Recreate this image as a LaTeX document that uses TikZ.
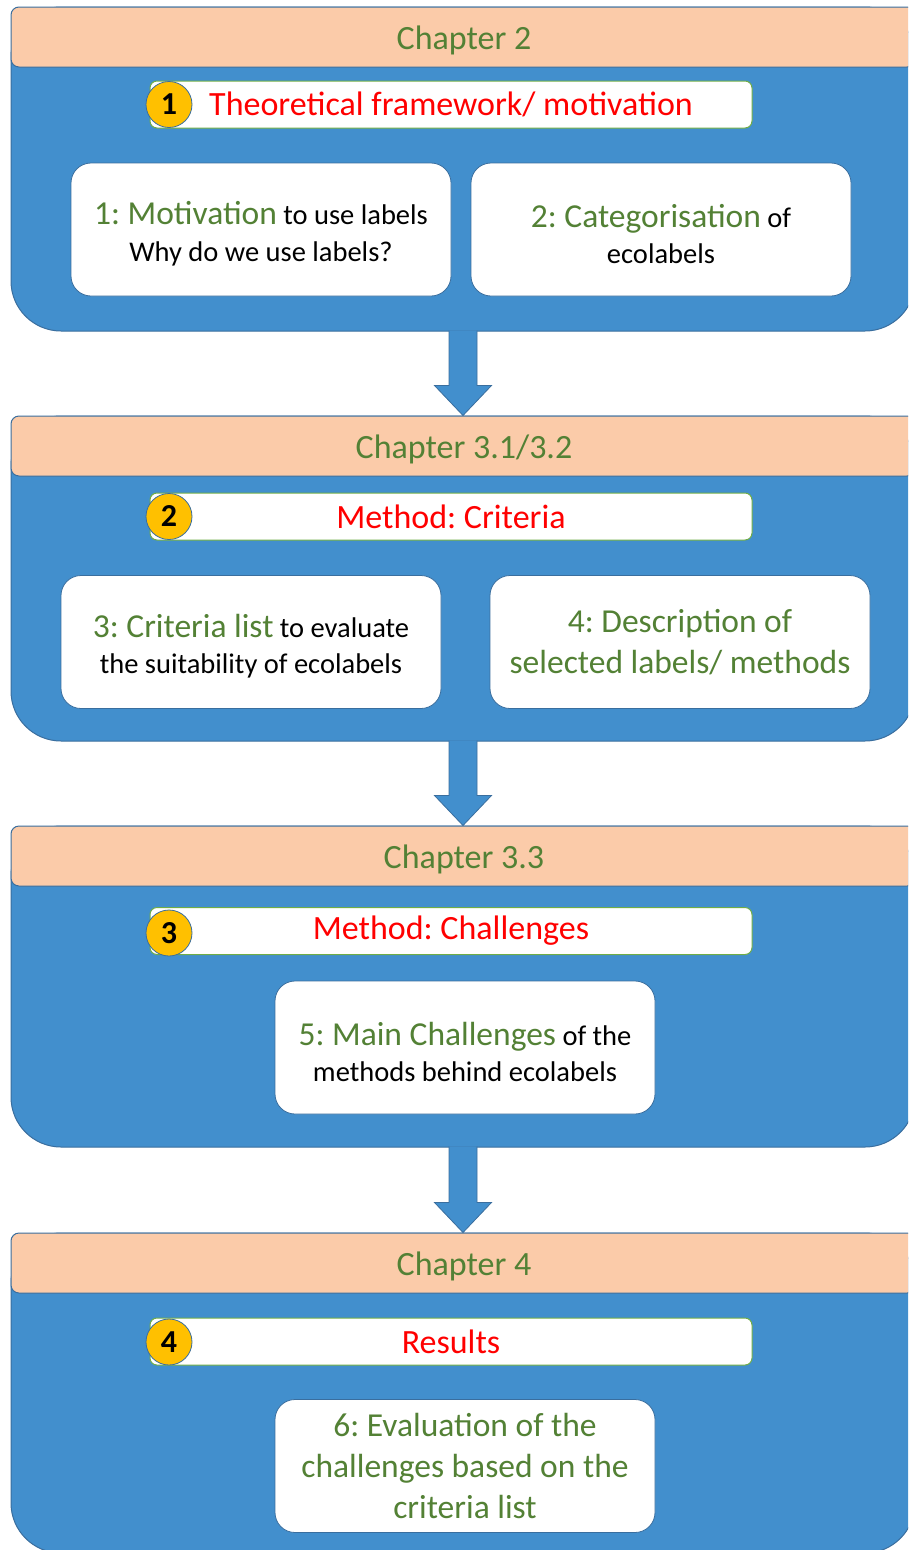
\documentclass[tikz,border=0pt]{standalone}
\usepackage{fontspec}
\setmainfont{Carlito}
\usetikzlibrary{calc}
\definecolor{cblue}{HTML}{428FCD}
\definecolor{cborder}{HTML}{3A6E9E}
\definecolor{peach}{HTML}{FBCBA9}
\definecolor{hgreen}{HTML}{538135}
\definecolor{tgreenb}{HTML}{70AD47}
\definecolor{corange}{HTML}{FFC000}
\definecolor{cred}{HTML}{FF0000}
\frenchspacing
\tikzset{
  container/.style={rectangle, fill=cblue, draw=cborder, line width=1pt, rounded corners=50pt, minimum width=904pt, inner sep=0pt},
  header/.style={rectangle, fill=peach, draw=cborder, line width=1pt, rounded corners=8pt, minimum width=904pt, minimum height=60pt, inner sep=0pt},
  headtext/.style={text=hgreen, font=\fontsize{34}{40}\selectfont},
  titlebox/.style={rectangle, fill=white, draw=tgreenb, line width=1pt, rounded corners=7pt, minimum width=602pt, minimum height=47pt, inner sep=0pt, text=cred, font=\fontsize{34}{40}\selectfont},
  numcirc/.style={circle, fill=corange, draw=cborder, line width=0.8pt, minimum size=46pt, inner sep=0pt, font=\fontsize{32}{32}\selectfont\bfseries},
  infobox/.style={rectangle, fill=white, draw=cborder, line width=0.8pt, rounded corners=20pt, minimum width=380pt, minimum height=133pt, align=center, inner sep=0pt, font=\fontsize{28.5}{36.5}\selectfont},
  flowarrow/.style={fill=cblue, draw=cborder, line width=0.8pt, line join=miter},
}
\newcommand{\gbig}[1]{\rule{0pt}{32pt}{\color{hgreen}\fontsize{33.5}{37}\selectfont #1}}
\begin{document}
\begin{tikzpicture}[x=1pt,y=-1pt]
\useasboundingbox (0,0) rectangle (908,1550);
\clip (0,0) rectangle (908,1550);

% containers
\node[container, minimum height=324pt] (s1) at (463,169) {};
\node[container, minimum height=325pt] (s2) at (463,578.5) {};
\node[container, minimum height=321pt] (s3) at (463,986.5) {};
\node[container, minimum height=320pt] (s4) at (463,1393) {};

% arrows
\foreach \a/\b in {s1/s2, s2/s3, s3/s4}{
  \draw[flowarrow] ($(\a.south)+(-14,-1)$) -- ($(\b.north)+(-14,-30)$) -- ($(\b.north)+(-28.5,-30)$) -- (\b.north) -- ($(\b.north)+(28.5,-30)$) -- ($(\b.north)+(14,-30)$) -- ($(\a.south)+(14,-1)$);
}

% headers
\node[header] (h1) at (463,37) {};
\node[header] (h2) at (463,446) {};
\node[header] (h3) at (463,856) {};
\node[header] (h4) at (463,1263) {};
\node[headtext] (h1t) at (464,40) {Chapter 2};
\node[headtext] (h2t) at (464,449) {Chapter 3.1/3.2};
\node[headtext] (h3t) at (464,859) {Chapter 3.3};
\node[headtext] (h4t) at (464,1266) {Chapter 4};

% title boxes
\node[titlebox] (t1) at (451,104.5) {Theoretical framework/ motivation};
\node[titlebox] (t2) at (451,516.5) {Method: Criteria};
\node[titlebox] (t3) at (451,931) {Method: Challenges};
\node[titlebox] (t4) at (451,1341.5) {Results};
\node[numcirc] (n1) at (169,104.5) {1};
\node[numcirc] (n2) at (169,516.5) {2};
\node[numcirc] (n3) at (169,933) {3};
\node[numcirc] (n4) at (169,1342) {4};

% info boxes
\node[infobox] (b1) at (261,229.5) {\gbig{1: Motivation} to use labels\\Why do we use labels?};
\node[infobox] (b2) at (661,229.5) {\gbig{2: Categorisation} of\\ecolabels};
\node[infobox] (b3) at (251,642) {\gbig{3: Criteria list} to evaluate\\the suitability of ecolabels};
\node[infobox, text=hgreen, font=\fontsize{33.5}{41}\selectfont] (b4) at (680,642) {4: Description of\\selected labels/ methods};
\node[infobox] (b5) at (465,1047.5) {\gbig{5: Main Challenges} of the\\methods behind ecolabels};
\node[infobox, text=hgreen, font=\fontsize{33.5}{41}\selectfont] (b6) at (465,1466) {6: Evaluation of the\\challenges based on the\\criteria list};
\end{tikzpicture}
\end{document}
